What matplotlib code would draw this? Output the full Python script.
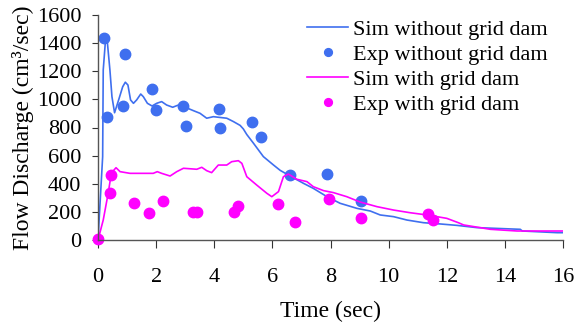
import matplotlib
matplotlib.use("Agg")
import matplotlib.pyplot as plt

plt.rcParams['font.family'] = ['Liberation Serif', 'DejaVu Serif']

BLUE = '#3F6FEF'
PINK = '#FF00FF'

# simulated discharge, no grid dam
sim_no_t = [0, 0.16, 0.18, 0.25, 0.32, 0.41, 0.48, 0.57, 0.71, 0.85, 0.94, 1.03,
            1.12, 1.22, 1.33, 1.47, 1.56, 1.70, 1.86, 2.02, 2.19, 2.36, 2.57, 2.77,
            3.0, 3.28, 3.51, 3.74, 3.97, 4.43, 4.66, 4.89, 5.0, 5.12, 5.35, 5.69,
            6.04, 6.27, 6.61, 7.07, 7.41, 7.88, 8.33, 8.91, 9.37, 9.71, 10.17,
            10.63, 11.2, 11.78, 12.35, 13.04, 14.53, 14.6, 15.8, 16]
sim_no_q = [0, 592, 1209, 1399, 1410, 1209, 1019, 905, 996, 1090, 1122, 1102,
            996, 972, 996, 1038, 1019, 972, 953, 972, 984, 960, 944, 960,
            944, 920, 901, 866, 877, 866, 842, 815, 790, 750, 688, 593,
            533, 495, 455, 403, 367, 308, 261, 225, 206, 178, 166,
            142, 123, 114, 104, 88, 76, 64, 52, 52]

# measured discharge, no grid dam
exp_no_t = [0.2, 0.3, 0.86, 0.93, 1.86, 2.0, 2.94, 3.04, 4.16, 4.21, 5.31, 5.6,
            6.59, 7.88, 9.06]
exp_no_q = [1440, 875, 955, 1320, 1076, 922, 955, 811, 932, 797, 837, 735,
            462, 469, 277]

# simulated discharge, with grid dam
sim_gd_t = [0, 0.18, 0.35, 0.44, 0.55, 0.62, 0.76, 1.1, 1.9, 2.04, 2.19, 2.48,
            2.71, 2.94, 3.4, 3.57, 3.74, 3.91, 4.14, 4.43, 4.6, 4.83, 4.95, 5.12,
            5.46, 5.81, 5.98, 6.21, 6.38, 6.55, 6.84, 7.19, 7.41, 7.76, 8.1,
            8.56, 9.02, 9.6, 10.17, 10.74, 11.32, 12.0, 12.4, 12.58, 13.5,
            14.42, 16]
sim_gd_q = [0, 142, 332, 450, 498, 514, 486, 474, 474, 486, 474, 455,
            486, 510, 503, 517, 493, 479, 533, 533, 557, 564, 545, 450,
            391, 332, 308, 344, 450, 469, 432, 415, 379, 351, 337,
            308, 270, 237, 213, 194, 178, 154, 123, 107, 76,
            64, 64]

# measured discharge, with grid dam
exp_gd_t = [0, 0.41, 0.46, 1.23, 1.75, 2.23, 3.28, 3.40, 4.67, 4.80, 6.19, 6.78,
            7.95, 9.06, 11.34, 11.51]
exp_gd_q = [5, 337, 460, 265, 192, 277, 201, 201, 201, 242, 254, 130,
            289, 156, 183, 142]

fig = plt.figure(figsize=(5.85, 3.23), dpi=100)
ax = fig.add_axes([98 / 585, 1 - 240 / 323, (563 - 98) / 585, (240 - 15) / 323])

ax.plot(sim_no_t, sim_no_q, color=BLUE, lw=1.2, label='Sim without grid dam')
ax.plot(exp_no_t, exp_no_q, 'o', color=BLUE, ms=7.5, clip_on=False,
        label='Exp without grid dam')
ax.plot(sim_gd_t, sim_gd_q, color=PINK, lw=1.2, label='Sim with grid dam')
ax.plot(exp_gd_t, exp_gd_q, 'o', color=PINK, ms=7.5, clip_on=False,
        label='Exp with grid dam')

ax.set_xlim(0, 16)
ax.set_ylim(0, 1600)
ax.set_xticks(range(0, 17, 2))
ax.set_yticks(range(0, 1601, 200))
ax.spines['top'].set_visible(False)
ax.spines['right'].set_visible(False)
for s in ('left', 'bottom'):
    ax.spines[s].set_color('#555555')
    ax.spines[s].set_linewidth(1.0)
ax.tick_params(axis='x', direction='out', length=6, pad=14, labelsize=16,
               color='#333333')
ax.tick_params(axis='y', direction='out', length=4, pad=8, labelsize=16,
               color='#333333')

ax.set_xlabel('Time (sec)', fontsize=17, labelpad=10)
ax.set_ylabel('Flow Discharge (cm³/sec)', fontsize=17, labelpad=2)

leg = ax.legend(loc='upper left', bbox_to_anchor=(307 / 585, 1 - 19 / 323),
                bbox_transform=fig.transFigure, frameon=False, fontsize=16,
                handlelength=1.85, handletextpad=0.22, labelspacing=0.2,
                markerscale=0.75, borderpad=0, borderaxespad=0)

fig.savefig('out.png', dpi=100)
